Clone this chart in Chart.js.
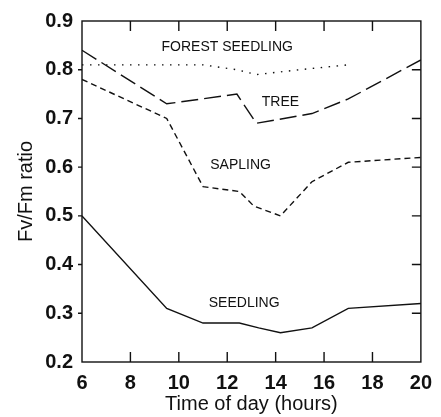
<!DOCTYPE html>
<html>
<head>
<meta charset="utf-8">
<script src="https://cdn.jsdelivr.net/npm/chart.js@4"></script>
<style>
  body { margin: 0; background: #fff; }
  canvas { display: block; }
</style>
</head>
<body>
<canvas id="fvfmChart" width="441" height="417"></canvas>
<script>
// Fv/Fm ratio during the day, four plant groups
const seedlingHours = [6, 9.5, 11, 12.5, 13.3, 14.2, 15.5, 17, 20];
const seedlingFvFm = [0.50, 0.31, 0.28, 0.28, 0.27, 0.26, 0.27, 0.31, 0.32];

const saplingHours = [6, 9.5, 11, 12.5, 13.1, 14.2, 15.5, 17, 20];
const saplingFvFm = [0.78, 0.70, 0.56, 0.55, 0.52, 0.50, 0.57, 0.61, 0.62];

const treeHours = [6, 9.5, 12.4, 13.2, 15.5, 17, 20];
const treeFvFm = [0.84, 0.73, 0.75, 0.69, 0.71, 0.74, 0.82];

const forestHours = [6, 11, 12.4, 13.2, 15, 17];
const forestFvFm = [0.81, 0.81, 0.80, 0.79, 0.80, 0.81];

const xTicks = [6, 8, 10, 12, 14, 16, 18, 20];
const yTicks = [0.2, 0.3, 0.4, 0.5, 0.6, 0.7, 0.8, 0.9];

// labels written inside the plot: [text, hour, ratio]
const seriesLabels = [
    ['FOREST SEEDLING', 12.0, 0.846],
    ['TREE', 14.2, 0.734],
    ['SAPLING', 12.55, 0.605],
    ['SEEDLING', 12.7, 0.321]
];

function pts(xs, ys) {
    return xs.map((x, i) => ({ x: x, y: ys[i] }));
}

function lineSet(label, xs, ys, dash) {
    return {
        label: label,
        data: pts(xs, ys),
        borderColor: '#111',
        borderWidth: 1.4,
        borderDash: dash,
        pointRadius: 0,
        tension: 0,
        fill: false
    };
}

// box round the plot with inward ticks, and the series labels
const framePlugin = {
    id: 'frame',
    afterDraw(chart) {
        const ctx = chart.ctx;
        const a = chart.chartArea;
        const sx = chart.scales.x, sy = chart.scales.y;
        ctx.save();
        ctx.strokeStyle = '#111';
        ctx.lineWidth = 1.4;
        ctx.setLineDash([]);
        ctx.strokeRect(a.left, a.top, a.right - a.left, a.bottom - a.top);
        ctx.beginPath();
        xTicks.slice(1, -1).forEach(v => {
            const px = sx.getPixelForValue(v);
            ctx.moveTo(px, a.bottom); ctx.lineTo(px, a.bottom - 10);
            ctx.moveTo(px, a.top); ctx.lineTo(px, a.top + 10);
        });
        yTicks.slice(1, -1).forEach(v => {
            const py = sy.getPixelForValue(v);
            ctx.moveTo(a.left - 4, py); ctx.lineTo(a.left, py);
            ctx.moveTo(a.right, py); ctx.lineTo(a.right - 9, py);
        });
        ctx.stroke();

        ctx.fillStyle = '#111';
        ctx.font = '14px "Liberation Sans", Arial, sans-serif';
        ctx.textAlign = 'center';
        ctx.textBaseline = 'middle';
        seriesLabels.forEach(l => {
            ctx.fillText(l[0], sx.getPixelForValue(l[1]), sy.getPixelForValue(l[2]));
        });
        ctx.restore();
    }
};

const ctx = document.getElementById('fvfmChart').getContext('2d');
const chart = new Chart(ctx, {
    type: 'line',
    data: {
        datasets: [
            lineSet('Forest seedling', forestHours, forestFvFm, [1.5, 6.5]),
            lineSet('Tree', treeHours, treeFvFm, [17, 6]),
            lineSet('Sapling', saplingHours, saplingFvFm, [6, 4]),
            lineSet('Seedling', seedlingHours, seedlingFvFm, [])
        ]
    },
    options: {
        responsive: false,
        animation: false,
        layout: { padding: { top: 16, right: 16, left: 0, bottom: 0 }, autoPadding: false },
        plugins: {
            legend: { display: false },
            tooltip: { enabled: false }
        },
        scales: {
            x: {
                type: 'linear',
                min: 6,
                max: 20,
                afterFit(scale) { scale.height = 55; },
                afterBuildTicks(scale) { scale.ticks = xTicks.map(v => ({ value: v })); },
                grid: { display: false, drawTicks: false },
                border: { display: false },
                ticks: {
                    color: '#111',
                    padding: 9,
                    maxRotation: 0,
                    font: { family: '"Liberation Sans", Arial, sans-serif', size: 20, weight: 'bold' }
                },
                title: {
                    display: true,
                    text: 'Time of day (hours)',
                    color: '#111',
                    padding: { top: 0, bottom: 1 },
                    font: { family: '"Liberation Sans", Arial, sans-serif', size: 20 }
                }
            },
            y: {
                min: 0.2,
                max: 0.9,
                afterFit(scale) { scale.width = 82; },
                afterBuildTicks(scale) { scale.ticks = yTicks.map(v => ({ value: v })); },
                grid: { display: false, drawTicks: false },
                border: { display: false },
                ticks: {
                    color: '#111',
                    padding: 9,
                    callback: v => v.toFixed(1),
                    font: { family: '"Liberation Sans", Arial, sans-serif', size: 20, weight: 'bold' }
                },
                title: {
                    display: true,
                    text: 'Fv/Fm ratio',
                    color: '#111',
                    padding: { top: 14, bottom: 0 },
                    font: { family: '"Liberation Sans", Arial, sans-serif', size: 20 }
                }
            }
        }
    },
    plugins: [framePlugin]
});
</script>
</body>
</html>
